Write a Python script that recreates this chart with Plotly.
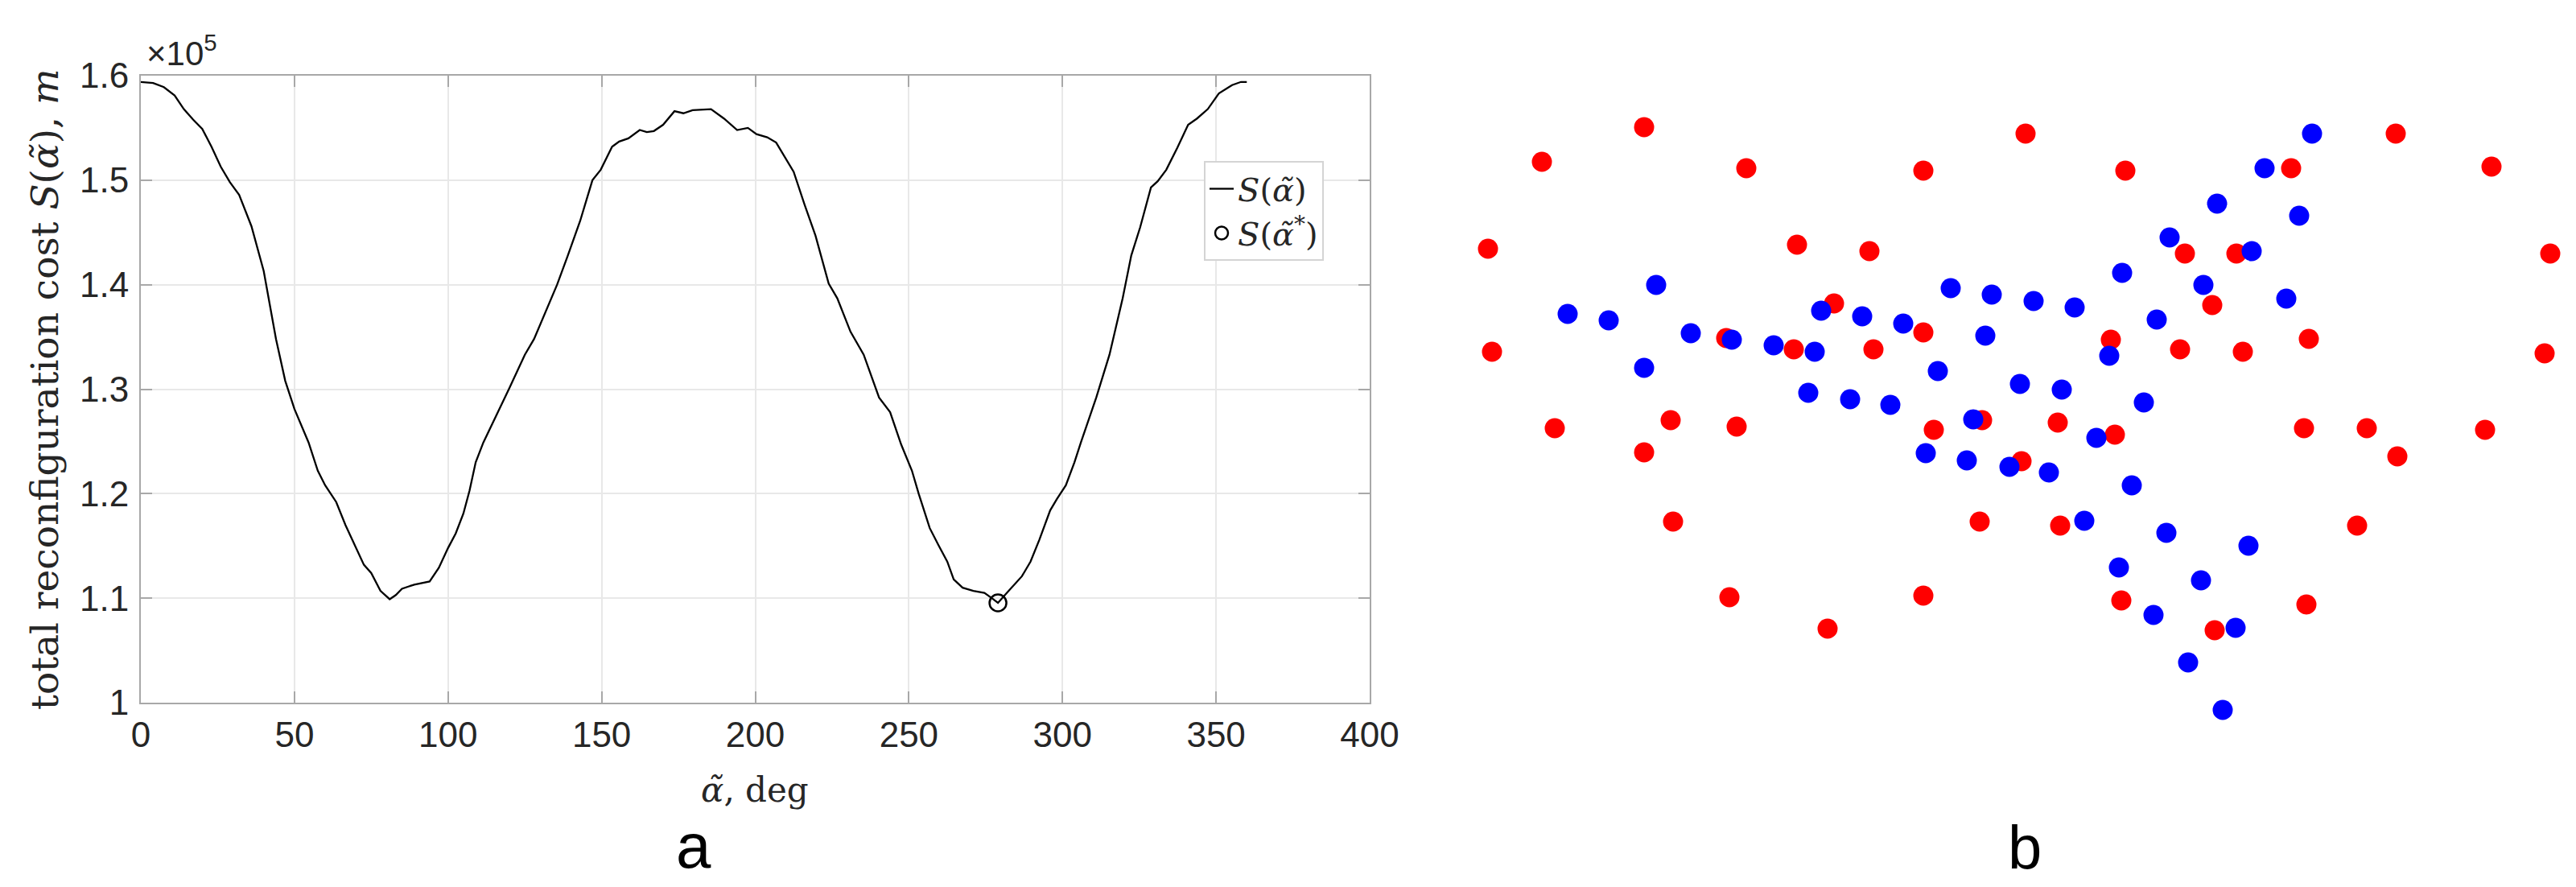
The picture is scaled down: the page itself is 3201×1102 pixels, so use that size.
import plotly.graph_objects as go

# ---------------- data: panel a ----------------
alpha_deg = [0, 4, 7.5, 11, 14, 17, 20, 23, 26, 29, 32, 36, 40, 44, 47, 50, 54.6, 57.6, 60, 63.6,
             66.6, 69.6, 72.6, 75, 78, 81, 83, 85, 89, 94, 97, 100, 102.5, 105, 107, 109, 111.5,
             119.8, 125, 128, 135.5, 139, 143, 147, 149.7, 153.4, 155.7, 158.7, 162.4, 164.7, 167,
             170, 173.7, 176.6, 179.6, 185.6, 189.8, 194.1, 197.6, 200.4, 203.9, 206.8, 209.6,
             212.5, 216, 219.6, 223.9, 226.7, 231, 235.3, 240.3, 243.9, 247.5, 251, 253.2, 256.8,
             259.6, 262.5, 264.6, 267.5, 271, 274.6, 277, 279, 282.5, 286.8, 289.6, 292.5, 296,
             298.2, 301.1, 303.9, 306, 311, 315.3, 319.6, 322.4, 325.3, 328.8, 331, 333.8, 337.4,
             340.9, 343.8, 347.3, 350.9, 355.2, 358.1, 360]
cost_m = [159400, 159300, 158900, 158100, 156800, 155800, 154900, 153200, 151300, 149800, 148600,
          145600, 141300, 134800, 130800, 128100, 124900, 122200, 120800, 119200, 117000, 115100,
          113200, 112400, 110700, 109900, 110300, 110900, 111300, 111600, 112900, 114800, 116200,
          118100, 120300, 123000, 124900, 130000, 133300, 134800, 140000, 142800, 146100, 150000,
          151000, 153200, 153700, 154000, 154800, 154600, 154700, 155300, 156600, 156400, 156700,
          156800, 155900, 154800, 155000, 154400, 154100, 153600, 152200, 150800, 147700, 144700,
          140100, 138700, 135500, 133300, 129200, 127800, 124700, 122200, 120000, 116700, 115100,
          113500, 111800, 111000, 110700, 110500, 110000, 109550, 110700, 112100, 113500, 115600,
          118400, 119500, 120800, 123000, 124900, 129200, 133300, 138700, 142800, 145500, 149300,
          149900, 151000, 153100, 155300, 155900, 156800, 158300, 159100, 159400, 159400]
opt_alpha = [279]
opt_cost = [109550]
x_ticks = [0, 50, 100, 150, 200, 250, 300, 350, 400]
y_ticks = [1.0, 1.1, 1.2, 1.3, 1.4, 1.5, 1.6]
y_tick_text = ["1", "1.1", "1.2", "1.3", "1.4", "1.5", "1.6"]

# ---------------- data: panel b ----------------
red_x = [243, 116, 370, 590, 49, 433, 523, 479, 590, 54, 345, 429, 528,
         717, 841, 1047, 1177, 1296, 915, 979, 1369, 949, 823, 909, 987, 1069, 1362,
         132, 276, 358, 243, 603, 663, 279, 660, 349, 590, 471,
         757, 828, 712, 1063, 1141, 1288, 1179, 760, 1129, 836, 1066, 952]
red_y = [742, 699, 691, 688, 591, 596, 588, 523, 487, 463, 480, 466, 466,
         734, 688, 691, 734, 693, 585, 585, 585, 521, 478, 466, 463, 479, 461,
         368, 378, 370, 338, 366, 378, 252, 252, 158, 160, 119,
         375, 360, 327, 368, 368, 366, 333, 247, 247, 154, 149, 117]
blue_x = [258, 148, 199, 301, 352, 404, 455, 463, 514, 565, 624, 675, 667, 243, 608, 447, 499, 549, 652,
          1073, 1014, 955, 1057, 896, 998, 837, 938, 727, 778, 1041, 880, 821, 710, 762, 864,
          593, 644,
          805, 697, 746, 849, 790, 892, 994, 833, 935, 876, 978, 919, 962]
blue_y = [546, 510, 502, 486, 478, 471, 463, 514, 507, 498, 542, 534, 483, 443, 439, 412, 404, 397, 379,
          734, 691, 647, 632, 605, 588, 561, 546, 526, 518, 529, 503, 458, 423, 416, 400,
          337, 328,
          356, 320, 313, 297, 253, 238, 222, 195, 179, 136, 120, 77, 18]

# page geometry: the page body has an 8 px margin around the figure
OFF = 8
W, H = 3201 - 2 * OFF, 1102 - 2 * OFF


def px(x):
    return (x - OFF) / W


def py(y):
    return 1 - (y - OFF) / H


SERIF = "DejaVu Serif, serif"
SANS = "Liberation Sans, Arial, Helvetica, sans-serif"
AX = "#a8a8a8"
TXT = "#262626"

fig = go.Figure()

fig.add_trace(go.Scatter(
    x=alpha_deg, y=[v / 1e5 for v in cost_m], mode="lines",
    line=dict(color="black", width=2.3),
    name="<i>S</i>(<i>α̃</i>)", xaxis="x", yaxis="y"))
fig.add_trace(go.Scatter(
    x=opt_alpha, y=[v / 1e5 for v in opt_cost], mode="markers",
    marker=dict(symbol="circle-open", size=21, color="black", line=dict(width=2.5)),
    name="<i>S</i>(<i>α̃</i><sup>*</sup>)", xaxis="x", yaxis="y"))

fig.add_trace(go.Scatter(
    x=red_x, y=red_y, mode="markers", showlegend=False,
    marker=dict(size=25, color="#ff0000", line=dict(width=0)),
    xaxis="x2", yaxis="y2"))
fig.add_trace(go.Scatter(
    x=blue_x, y=blue_y, mode="markers", showlegend=False,
    marker=dict(size=25, color="#0000ff", line=dict(width=0)),
    xaxis="x2", yaxis="y2"))

axis_common = dict(showgrid=True, gridcolor="#e8e8e8", gridwidth=2, zeroline=False,
                   showline=True, linecolor=AX, linewidth=2, mirror="ticks",
                   ticks="inside", ticklen=14, tickwidth=2, tickcolor=AX,
                   automargin=False,
                   tickfont=dict(family=SANS, size=44, color=TXT))

fig.update_layout(
    width=W, height=H,
    autosize=False,
    margin=dict(l=0, r=0, t=0, b=0, pad=0),
    paper_bgcolor="white", plot_bgcolor="white",
    xaxis=dict(domain=[px(175), px(1702)], range=[0, 400], tickvals=x_ticks, **axis_common),
    yaxis=dict(domain=[py(873), py(94)], range=[1.0, 1.6], tickvals=y_ticks,
               ticktext=y_tick_text, ticklabelstandoff=4, **axis_common),
    xaxis2=dict(domain=[px(1800), 1.0], range=[0, 1401 - OFF], visible=False, automargin=False),
    yaxis2=dict(domain=[0, py(8)], range=[-202 + OFF, 900 - OFF], visible=False, anchor="x2",
                automargin=False),
    legend=dict(x=px(1496), y=py(200), xanchor="left", yanchor="top",
                bgcolor="white", bordercolor="#d4d4d4", borderwidth=2,
                font=dict(family=SERIF, size=40, color=TXT),
                tracegroupgap=0, itemwidth=30),
    showlegend=True,
)

ann = []
ann.append(dict(text="total reconfiguration cost <i>S</i>(<i>α̃</i>), <i>m</i>",
                x=px(55), y=py(484), xref="paper", yref="paper",
                xanchor="center", yanchor="middle", textangle=-90, showarrow=False,
                font=dict(family=SERIF, size=47, color=TXT)))
ann.append(dict(text="<i>α̃</i>, deg", x=px(938), y=py(981), xref="paper", yref="paper",
                xanchor="center", yanchor="middle", showarrow=False,
                font=dict(family=SERIF, size=42, color=TXT)))
ann.append(dict(text="×10<sup>5</sup>", x=px(180), y=py(92), xref="paper", yref="paper",
                xanchor="left", yanchor="bottom", showarrow=False,
                font=dict(family=SANS, size=42, color=TXT)))
ann.append(dict(text="a", x=px(862), y=py(1097), xref="paper", yref="paper",
                xanchor="center", yanchor="bottom", showarrow=False,
                font=dict(family=SANS, size=78, color="black")))
ann.append(dict(text="b", x=px(2516), y=py(1097), xref="paper", yref="paper",
                xanchor="center", yanchor="bottom", showarrow=False,
                font=dict(family=SANS, size=76, color="black")))
fig.update_layout(annotations=ann)

fig.write_html("out.html")
